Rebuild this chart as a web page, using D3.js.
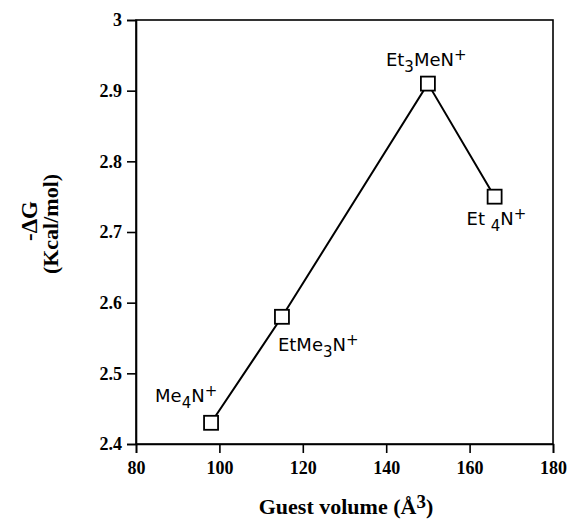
<!DOCTYPE html>
<html>
<head>
<meta charset="utf-8">
<script src="https://cdn.jsdelivr.net/npm/d3@7.9.0/dist/d3.min.js"></script>
<style>
  body { margin: 0; background: #fff; }
  .lbl { font-family: "DejaVu Sans", "Noto Sans", sans-serif; fill: #000; }
  .axtitle { font-family: "Liberation Serif", "Times New Roman", serif; font-weight: bold; fill: #000; }
</style>
</head>
<body>
<svg width="573" height="520"></svg>
<script>
// guest ions and their binding energies
const ions = ['Me4N+', 'EtMe3N+', 'Et3MeN+', 'Et4N+'];
const volume = [98, 115, 150, 166];
const negDeltaG = [2.43, 2.58, 2.91, 2.75];
const xTicks = [80, 100, 120, 140, 160, 180];
const yTicks = [2.4, 2.5, 2.6, 2.7, 2.8, 2.9, 3];

const svg = d3.select('svg');
const mLeft = 136, mRight = 553, mTop = 20, mBottom = 444;

let x = d3.scaleLinear().domain([80, 180]).range([mLeft, mRight]);
let y = d3.scaleLinear().domain([2.4, 3]).range([mBottom, mTop]);

let data = ions.map((name, i) => ({ name, v: volume[i], g: negDeltaG[i] }));

// frame
svg.append('rect')
    .attr('x', mLeft).attr('y', mTop)
    .attr('width', mRight - mLeft).attr('height', mBottom - mTop)
    .attr('fill', 'none').attr('stroke', '#000').attr('stroke-width', 1.6);

let xAxis = svg.append('g')
    .attr('transform', `translate(0,${mBottom})`)
    .call(d3.axisBottom(x).tickValues(xTicks).tickSize(9).tickPadding(6).tickFormat(d3.format('d')));
let yAxis = svg.append('g')
    .attr('transform', `translate(${mLeft},0)`)
    .call(d3.axisLeft(y).tickValues(yTicks).tickSize(9).tickPadding(5).tickFormat(d => d));
for (let ax of [xAxis, yAxis]) {
    ax.attr('font-family', 'Liberation Serif').attr('font-size', 18).attr('font-weight', 'bold');
    ax.select('.domain').attr('stroke-width', 1.6);
    ax.selectAll('.tick line').attr('stroke-width', 1.6);
}
xAxis.selectAll('text').attr('dy', '0.85em');

// line + markers
svg.append('path')
    .datum(data)
    .attr('d', d3.line().x(d => x(d.v)).y(d => y(d.g)))
    .attr('fill', 'none').attr('stroke', '#000').attr('stroke-width', 2);

svg.selectAll('rect.pt')
    .data(data)
    .join('rect')
    .attr('class', 'pt')
    .attr('x', d => x(d.v) - 7).attr('y', d => y(d.g) - 7)
    .attr('width', 14).attr('height', 14)
    .attr('fill', '#fff').attr('stroke', '#000').attr('stroke-width', 1.8);

// point labels: [formula pieces], offsets relative to the point
const labelParts = [
    [['Me', 0], ['4', 1], ['N', 0], ['+', -1]],
    [['EtMe', 0], ['3', 1], ['N', 0], ['+', -1]],
    [['Et', 0], ['3', 1], ['MeN', 0], ['+', -1]],
    [['Et ', 0], ['4', 1], ['N', 0], ['+', -1]]
];
const labelOffsets = [[-56, -21], [-4, 34], [-42, -18], [-28, 28]];

data.forEach((d, i) => {
    let t = svg.append('text').attr('class', 'lbl')
        .attr('x', x(d.v) + labelOffsets[i][0])
        .attr('y', y(d.g) + labelOffsets[i][1]);
    let shift = 0;
    labelParts[i].forEach(([s, k]) => {
        let dy = k === 1 ? 6 : k === -1 ? -6 : 0;
        t.append('tspan')
            .attr('dy', dy - shift)
            .attr('font-size', k === 0 ? 18 : 15)
            .text(s);
        shift = dy;
    });
});

// axis titles
let xt = svg.append('text').attr('class', 'axtitle')
    .attr('x', 346).attr('y', 514)
    .attr('text-anchor', 'middle').attr('font-size', 22);
xt.append('tspan').text('Guest volume (Å');
xt.append('tspan').attr('dy', -6).attr('font-size', 19).text('3');
xt.append('tspan').attr('dy', 6).text(')');

svg.append('text').attr('class', 'axtitle')
    .attr('transform', 'translate(37,221) rotate(-90)')
    .attr('text-anchor', 'middle').attr('font-size', 23)
    .text('-ΔG');
svg.append('text').attr('class', 'axtitle')
    .attr('transform', 'translate(58,224) rotate(-90)')
    .attr('text-anchor', 'middle').attr('font-size', 22)
    .text('(Kcal/mol)');
</script>
</body>
</html>
